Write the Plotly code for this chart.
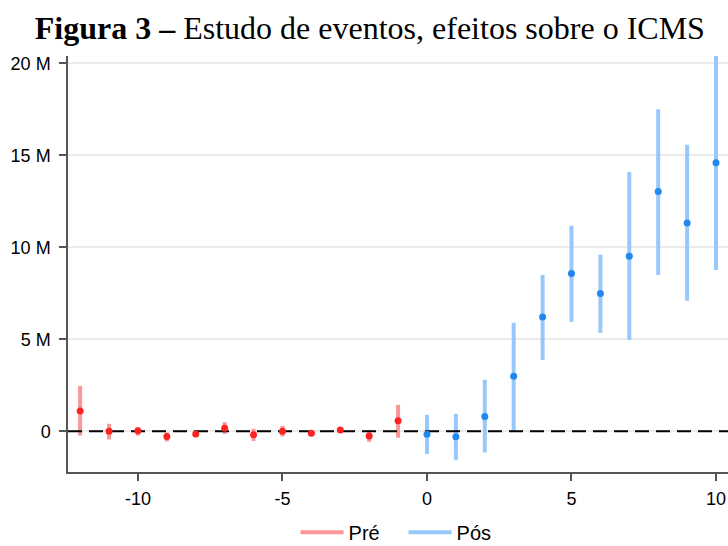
import plotly.graph_objects as go

# Event-study estimates (ICMS), in millions
pre_t = [-12, -11, -10, -9, -8, -7, -6, -5, -4, -3, -2, -1]
pre_est = [1.11, 0.0, 0.03, -0.28, -0.14, 0.17, -0.19, 0.0, -0.10, 0.07, -0.25, 0.57]
pre_lo = [-0.23, -0.44, -0.23, -0.55, -0.32, -0.14, -0.52, -0.28, -0.19, -0.07, -0.57, -0.34]
pre_hi = [2.47, 0.41, 0.21, -0.06, 0.04, 0.50, 0.14, 0.30, 0.00, 0.23, 0.08, 1.44]

pos_t = [0, 1, 2, 3, 4, 5, 6, 7, 8, 9, 10]
pos_est = [-0.16, -0.30, 0.80, 3.00, 6.22, 8.58, 7.49, 9.52, 13.03, 11.33, 14.60]
pos_lo = [-1.23, -1.55, -1.15, 0.00, 3.88, 5.95, 5.35, 4.97, 8.50, 7.10, 8.77]
pos_hi = [0.90, 0.95, 2.80, 5.90, 8.50, 11.17, 9.60, 14.10, 17.50, 15.57, 20.40]

y_ticks = [0, 5, 10, 15, 20]
y_tick_text = ["0", "5 M", "10 M", "15 M", "20 M"]
x_ticks = [-10, -5, 0, 5, 10]
x_tick_text = ["-10", "-5", "0", "5", "10"]

X_RANGE = [-12.42, 10.415]
Y_RANGE = [-2.21, 20.4]

RED_PT, RED_CI = "#ff2222", "rgb(250,150,150)"
BLUE_PT, BLUE_CI = "#2288ee", "rgb(150,200,250)"


def segments(t, lo, hi):
    xs, ys = [], []
    for ti, l, h in zip(t, lo, hi):
        xs += [ti, ti, None]
        ys += [l, h, None]
    return xs, ys


fig = go.Figure()

# Confidence intervals as vertical segments (these also carry the legend)
for name, t, lo, hi, col in [("Pré", pre_t, pre_lo, pre_hi, RED_CI),
                             ("Pós", pos_t, pos_lo, pos_hi, BLUE_CI)]:
    xs, ys = segments(t, lo, hi)
    fig.add_trace(go.Scatter(x=xs, y=ys, mode="lines", name=name,
                             line=dict(color=col, width=4),
                             hoverinfo="skip"))

# Zero reference line
fig.add_trace(go.Scatter(x=X_RANGE, y=[0, 0], mode="lines", showlegend=False,
                         line=dict(color="black", width=2, dash="14px,7px"),
                         hoverinfo="skip"))

# Point estimates
for t, est, col in [(pre_t, pre_est, RED_PT), (pos_t, pos_est, BLUE_PT)]:
    fig.add_trace(go.Scatter(x=t, y=est, mode="markers", showlegend=False,
                             marker=dict(color=col, size=7, line=dict(width=0))))

fig.update_layout(
    width=728, height=546,
    margin=dict(l=68, r=0, t=56, b=74),
    paper_bgcolor="white", plot_bgcolor="white",
    title=dict(text="<b>Figura 3 –</b> Estudo de eventos, efeitos sobre o ICMS",
               font=dict(family="Liberation Serif", size=32, color="black"),
               xref="container", x=0.508, xanchor="center",
               yref="container", y=0.95, yanchor="middle"),
    font=dict(family="Liberation Sans", size=18, color="black"),
    legend=dict(orientation="h", xref="container", x=0.406, xanchor="left",
                yref="container", y=0.025, yanchor="middle",
                font=dict(size=20), itemwidth=43,
                entrywidth=50, entrywidthmode="pixels",
                traceorder="normal"),
    xaxis=dict(range=X_RANGE, tickvals=x_ticks, ticktext=x_tick_text,
               showgrid=False, zeroline=False,
               showline=True, linecolor="#555", linewidth=1.5,
               ticks="outside", ticklen=7, tickcolor="#555", tickwidth=1.5,
               ticklabelstandoff=3, automargin=False),
    yaxis=dict(range=Y_RANGE, tickvals=y_ticks, ticktext=y_tick_text,
               showgrid=True, gridcolor="#ebebeb", gridwidth=1.5, zeroline=False,
               showline=True, linecolor="#555", linewidth=1.5,
               ticks="outside", ticklen=7, tickcolor="#555", tickwidth=1.5,
               ticklabelstandoff=5, automargin=False),
)

fig.write_html("out.html")
